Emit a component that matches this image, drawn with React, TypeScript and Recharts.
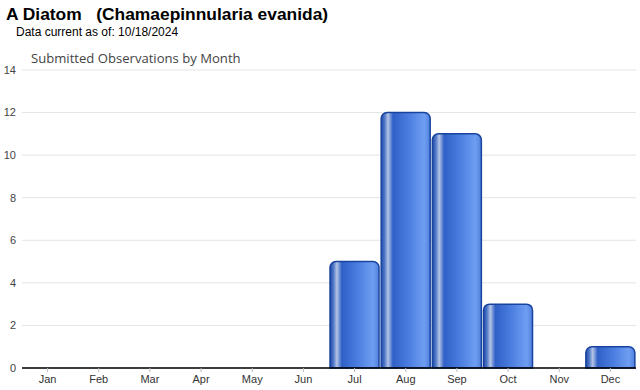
import { BarChart, Bar, XAxis, YAxis, CartesianGrid } from "recharts"

// data
const months = ["Jan", "Feb", "Mar", "Apr", "May", "Jun", "Jul", "Aug", "Sep", "Oct", "Nov", "Dec"]
const observations = [0, 0, 0, 0, 0, 0, 5, 12, 11, 3, 0, 1]
const yTicks = [0, 2, 4, 6, 8, 10, 12, 14]

const chartData = months.map((m, i) => ({ month: m, count: observations[i] }))

export default function App() {
  return (
    <div style={{ position: "absolute", left: 0, top: 0, width: 640, height: 390, background: "#fff", fontFamily: "'Liberation Sans', Arial, sans-serif" }}>
      <div style={{ position: "absolute", left: 6, top: 4, fontSize: 17.4, fontWeight: "bold", whiteSpace: "pre", color: "#000" }}>
        {"A Diatom   (Chamaepinnularia evanida)"}
      </div>
      <div style={{ position: "absolute", left: 16, top: 25, fontSize: 12, color: "#000" }}>
        Data current as of: 10/18/2024
      </div>
      <div style={{ position: "absolute", left: 31, top: 49, fontSize: 13.1, color: "#444", fontFamily: "'Open Sans', sans-serif" }}>
        Submitted Observations by Month
      </div>
      <BarChart
        width={640}
        height={390}
        data={chartData}
        margin={{ top: 70, right: 4, bottom: 0, left: 0 }}
        barCategoryGap="2%"
      >
        <defs>
          <linearGradient id="barFill" x1="0" y1="0" x2="1" y2="0">
            <stop offset="0%" stopColor="#1f4aa8" />
            <stop offset="7%" stopColor="#5078c8" />
            <stop offset="14%" stopColor="#b4c5e6" />
            <stop offset="24%" stopColor="#3060c6" />
            <stop offset="55%" stopColor="#4a7cdf" />
            <stop offset="88%" stopColor="#6e9ef2" />
            <stop offset="100%" stopColor="#4f80dc" />
          </linearGradient>
        </defs>
        <CartesianGrid vertical={false} stroke="#e4e4e4" />
        <XAxis
          dataKey="month"
          height={22}
          axisLine={{ stroke: "#000", strokeWidth: 1.5 }}
          tickLine={{ stroke: "#bbb" }}
          tickSize={4}
          tickMargin={3}
          tick={{ fontSize: 11, fill: "#333" }}
        />
        <YAxis
          width={22}
          domain={[0, 14]}
          ticks={yTicks}
          axisLine={false}
          tickLine={false}
          tickSize={0}
          tickMargin={6}
          tick={{ fontSize: 11, fill: "#444" }}
        />
        <Bar
          dataKey="count"
          fill="url(#barFill)"
          stroke="#1844a0"
          strokeWidth={1.5}
          radius={[6, 6, 0, 0]}
          isAnimationActive={false}
        />
      </BarChart>
    </div>
  )
}
